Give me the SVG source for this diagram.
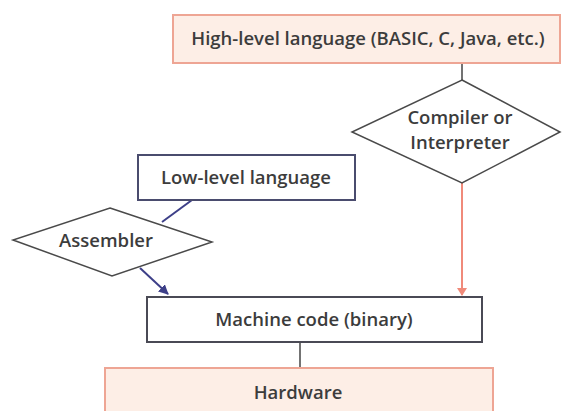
<svg xmlns="http://www.w3.org/2000/svg" width="564" height="411" viewBox="0 0 564 411">
  <style>
    .t { font-family: "Open Sans", "Liberation Sans", sans-serif; font-size: 18.5px; fill: #3c3c3c; text-anchor: middle; font-weight: 600; }
    .pink { fill: #fdeee6; stroke: #eea594; stroke-width: 2; }
    .white { fill: #ffffff; stroke: #4a4a55; stroke-width: 2; }
    .lowbox { fill: #ffffff; stroke: #4a4c6e; stroke-width: 2; }
    .dia { fill: #ffffff; stroke: #4a4a4a; stroke-width: 1.5; }
    .line { fill: none; stroke: #444; stroke-width: 1.5; }
    .blue { fill: none; stroke: #3d3f88; stroke-width: 2; }
    .red { fill: none; stroke: #f08a7a; stroke-width: 2; }
  </style>
  <defs>
    <marker id="ah-red" markerWidth="8" markerHeight="10" refX="7" refY="5" orient="auto" markerUnits="userSpaceOnUse">
      <path d="M0,0 L8,5 L0,10 z" fill="#f08a7a"/>
    </marker>
    <marker id="ah-blue" markerWidth="10" markerHeight="10" refX="9" refY="5" orient="auto" markerUnits="userSpaceOnUse">
      <path d="M0,0 L10,5 L0,10 z" fill="#3d3f88"/>
    </marker>
  </defs>
  <rect width="564" height="411" fill="#ffffff"/>
  <g id="connectors">
    <line class="line" x1="462" y1="63" x2="462" y2="80"/>
    <line class="red" x1="462" y1="183" x2="462" y2="295" marker-end="url(#ah-red)"/>
    <line class="blue" x1="192" y1="200" x2="162" y2="222"/>
    <line class="blue" x1="140" y1="268" x2="168" y2="294" marker-end="url(#ah-blue)"/>
    <line class="line" x1="300" y1="342" x2="300" y2="368"/>
  </g>
  <g id="high-level">
    <rect class="pink" x="173" y="15" width="387" height="48"/>
    <text class="t" x="368" y="45">High-level language (BASIC, C, Java, etc.)</text>
  </g>
  <g id="compiler">
    <polygon class="dia" points="462,80 560,132 462,183 352,132"/>
    <text class="t" x="460" y="124">Compiler or</text>
    <text class="t" x="460" y="149">Interpreter</text>
  </g>
  <g id="low-level">
    <rect class="lowbox" x="138" y="155" width="217" height="45"/>
    <text class="t" x="246" y="184">Low-level language</text>
  </g>
  <g id="assembler">
    <polygon class="dia" points="110,208 212,242 112,276 13,240"/>
    <text class="t" x="106" y="247">Assembler</text>
  </g>
  <g id="machine-code">
    <rect class="white" x="147" y="297" width="335" height="45"/>
    <text class="t" x="314" y="326">Machine code (binary)</text>
  </g>
  <g id="hardware">
    <rect class="pink" x="105" y="368" width="388" height="50"/>
    <text class="t" x="298" y="399">Hardware</text>
  </g>
</svg>
